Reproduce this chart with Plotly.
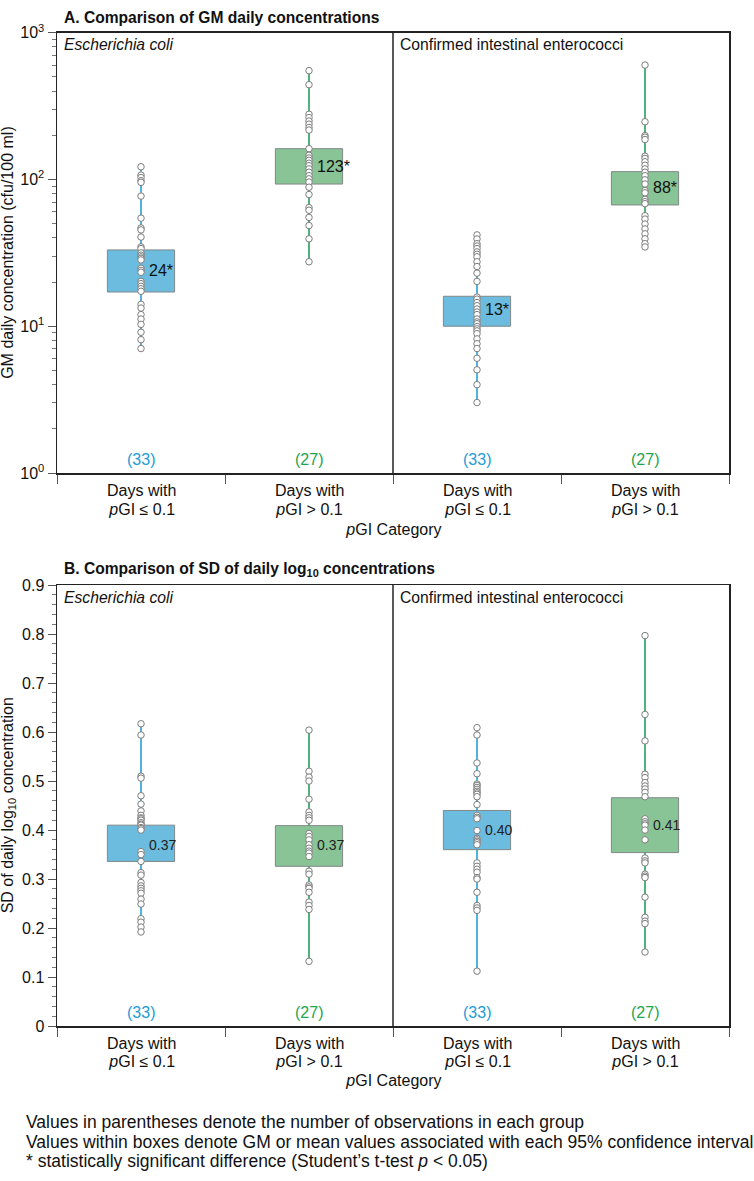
import math
import plotly.graph_objects as go

W, H = 754, 1181
FONT = "Liberation Sans, Arial, Helvetica, sans-serif"

# ---------------- data ----------------
category_line1 = ["Days with", "Days with", "Days with", "Days with"]
category_line2 = ["\u200a<i>p</i>GI ≤ 0.1", "\u200a<i>p</i>GI > 0.1",
                  "\u200a<i>p</i>GI ≤ 0.1", "\u200a<i>p</i>GI > 0.1"]
organisms = ["Escherichia coli", "Confirmed intestinal enterococci"]
organism_style = ["italic", "normal"]
group_counts = ["(33)", "(27)", "(33)", "(27)"]

# Panel A: GM daily concentrations (cfu/100 ml)
gm_ecoli_low = [122, 107, 103, 98, 95.5, 77, 54.5, 46.7, 45.3, 40.5, 34.7, 33.8, 31.6,
                30.5, 29.7, 29.0, 28.3, 24.8, 24.0, 23.3, 20.2, 19.5, 18.7, 18.0, 17.3,
                14.1, 13.3, 12.0, 11.2, 10.3, 9.1, 8.1, 7.05]
gm_ecoli_high = [551, 442, 278, 264, 250, 238, 226, 217, 162, 146, 140, 135, 129, 124,
                 118, 112, 106, 101, 96, 88.5, 79, 64.3, 61.7, 55.1, 48.5, 39.4, 27.5]
gm_ent_low = [41.9, 39.3, 36.5, 35.2, 33.8, 32.1, 30.9, 29.7, 27.5, 25.5, 23.0, 20.2,
              15.8, 15.3, 14.5, 13.8, 13.1, 12.5, 12.0, 11.2, 10.7, 10.4, 9.95, 9.6,
              9.3, 8.9, 8.2, 7.6, 7.05, 6.05, 5.05, 4.0, 3.02]
gm_ent_high = [601, 247, 199, 194, 187, 144, 139, 132, 125, 118, 112, 106, 99.4, 93.1,
               83.9, 81.0, 73.1, 70.5, 68.4, 56.6, 53.7, 49.7, 46.0, 42.6, 39.4, 36.5, 34.7]
gm_ci_low = [17.1, 93, 10.0, 67]
gm_ci_high = [33.1, 162, 16.0, 113]
gm_centre = [24, 123, 13, 88]
gm_labels = ["24*", "123*", "13*", "88*"]

# Panel B: SD of daily log10 concentration
sd_ecoli_low = [0.617, 0.594, 0.510, 0.506, 0.470, 0.453, 0.439, 0.430, 0.425, 0.423,
                0.420, 0.415, 0.412, 0.410, 0.405, 0.403, 0.400, 0.356, 0.350, 0.336,
                0.313, 0.308, 0.293, 0.286, 0.281, 0.276, 0.271, 0.259, 0.249, 0.219,
                0.212, 0.202, 0.192]
sd_ecoli_high = [0.604, 0.520, 0.508, 0.500, 0.463, 0.437, 0.430, 0.425, 0.420, 0.393,
                 0.387, 0.380, 0.370, 0.363, 0.357, 0.353, 0.346, 0.316, 0.310, 0.288,
                 0.284, 0.281, 0.273, 0.253, 0.246, 0.238, 0.132]
sd_ent_low = [0.609, 0.594, 0.537, 0.515, 0.494, 0.491, 0.487, 0.483, 0.479, 0.476,
              0.473, 0.468, 0.452, 0.430, 0.426, 0.423, 0.399, 0.383, 0.380, 0.377,
              0.374, 0.370, 0.333, 0.326, 0.320, 0.314, 0.303, 0.300, 0.273, 0.246,
              0.241, 0.236, 0.112]
sd_ent_high = [0.797, 0.636, 0.582, 0.514, 0.507, 0.497, 0.490, 0.484, 0.477, 0.468,
               0.423, 0.417, 0.413, 0.410, 0.400, 0.380, 0.343, 0.337, 0.333, 0.310,
               0.306, 0.303, 0.263, 0.222, 0.214, 0.209, 0.151]
sd_ci_low = [0.336, 0.326, 0.360, 0.354]
sd_ci_high = [0.410, 0.409, 0.440, 0.466]
sd_centre = [0.37, 0.37, 0.40, 0.41]
sd_labels = ["0.37", "0.37", "0.40", "0.41"]

footnotes = ["Values in parentheses denote the number of observations in each group",
             "Values within boxes denote GM or mean values associated with each 95% confidence interval",
             "* statistically significant difference (Student’s t-test <i>p</i> < 0.05)"]

# ---------------- styles ----------------
BOX_FILL = ["rgb(107,188,222)", "rgb(137,196,150)"] * 2
LINE_COL = ["rgb(38,160,212)", "rgb(36,160,90)"] * 2
TEXT_COL = ["rgb(28,156,216)", "rgb(28,166,78)"] * 2
AXIS_COL = "#222222"
HALF = 0.2

px_x = lambda p: p / W
px_y = lambda p: 1 - p / H

fig = go.Figure()


def add_panel(groups, lo, hi, centre, labels, xa, ya, log, label_size, label_col):
    for i, vals in enumerate(groups):
        # whisker line through the points
        fig.add_trace(go.Scatter(x=[i, i], y=[min(vals), max(vals)], mode="lines",
                                 line=dict(color=LINE_COL[i], width=1.6),
                                 xaxis=xa, yaxis=ya, hoverinfo="skip", showlegend=False))
        # 95% CI box
        fig.add_trace(go.Scatter(x=[i - HALF, i + HALF, i + HALF, i - HALF, i - HALF],
                                 y=[lo[i], lo[i], hi[i], hi[i], lo[i]], mode="lines",
                                 fill="toself", fillcolor=BOX_FILL[i],
                                 line=dict(color="rgb(128,136,136)", width=1),
                                 xaxis=xa, yaxis=ya, hoverinfo="skip", showlegend=False))
        # observations
        fig.add_trace(go.Scatter(x=[i] * len(vals), y=vals, mode="markers",
                                 marker=dict(size=6.5, color="white",
                                             line=dict(color="rgb(125,125,125)", width=1)),
                                 xaxis=xa, yaxis=ya, showlegend=False))
        fig.add_annotation(x=i + 0.035, y=math.log10(centre[i]) if log else centre[i],
                           xref=xa, yref=ya, text=labels[i], showarrow=False,
                           xanchor="left", yanchor="middle",
                           font=dict(size=label_size, color=label_col, family=FONT))
        fig.add_annotation(x=i, y=0.03, xref=xa, yref=ya + " domain", text=group_counts[i],
                           showarrow=False, xanchor="center", yanchor="middle",
                           font=dict(size=16, color=TEXT_COL[i], family=FONT))


add_panel([gm_ecoli_low, gm_ecoli_high, gm_ent_low, gm_ent_high],
          gm_ci_low, gm_ci_high, gm_centre, gm_labels, "x", "y", True, 16, "#111111")
add_panel([sd_ecoli_low, sd_ecoli_high, sd_ent_low, sd_ent_high],
          sd_ci_low, sd_ci_high, sd_centre, sd_labels, "x2", "y2", False, 14, "#222222")

x_dom = [px_x(57), px_x(729)]
common_x = dict(range=[-0.5, 3.5], tickvals=[-0.5, 0.5, 1.5, 2.5, 3.5], showticklabels=False,
                ticks="outside", ticklen=9, tickwidth=1, tickcolor="#555555",
                showline=True, linecolor=AXIS_COL, linewidth=1.5, mirror=True,
                showgrid=False, zeroline=False, domain=x_dom, fixedrange=True)
common_y = dict(ticks="outside", ticklen=8, tickwidth=1, tickcolor="#555555",
                showline=True, linecolor=AXIS_COL, linewidth=1.5, mirror=True,
                showgrid=False, zeroline=False, fixedrange=True,
                tickfont=dict(size=16, color="#111111", family=FONT))

minor_log = [m * 10 ** k for k in range(0, 3) for m in range(2, 10)]

fig.update_layout(
    width=W, height=H, autosize=False,
    margin=dict(l=0, r=0, t=0, b=0),
    paper_bgcolor="white", plot_bgcolor="white",
    font=dict(family=FONT, size=16, color="#111111"),
    xaxis=dict(common_x, anchor="y"),
    yaxis=dict(common_y, anchor="x", type="log", range=[0, 3],
               domain=[px_y(470), px_y(22)],
               tickvals=[1, 10, 100, 1000],
               ticktext=["10<sup>0</sup>", "10<sup>1</sup>", "10<sup>2</sup>", "10<sup>3</sup>"],
               minor=dict(tickvals=minor_log, ticks="outside", ticklen=4,
                          tickcolor="#777777", showgrid=False)),
    xaxis2=dict(common_x, anchor="y2"),
    yaxis2=dict(common_y, anchor="x2", range=[0, 0.9], domain=[px_y(1032.5), px_y(584)],
                tickvals=[0, 0.1, 0.2, 0.3, 0.4, 0.5, 0.6, 0.7, 0.8, 0.9],
                ticktext=["0", "0.1", "0.2", "0.3", "0.4", "0.5", "0.6", "0.7", "0.8", "0.9"],
                minor=dict(dtick=0.02, ticks="outside", ticklen=4,
                           tickcolor="#777777", showgrid=False)),
)

# dividers between organisms
for xa, ya in [("x", "y"), ("x2", "y2")]:
    fig.add_shape(type="line", xref=xa, yref=ya + " domain", x0=1.5, x1=1.5, y0=0, y1=1,
                  line=dict(color=AXIS_COL, width=1.5))

# organism labels
for xa, top in [("x", 34), ("x2", 597)]:
    for k, org in enumerate(organisms):
        fig.add_annotation(x=-0.5 + 2 * k, y=px_y(top), xref=xa, yref="paper", text=org,
                           showarrow=False, xanchor="left", yanchor="middle", xshift=5,
                           font=dict(size=15.7, color="#111111", family=FONT,
                                     style=organism_style[k]))

# category labels
for xa, l1, l2, cat_y in [("x", 488, 507, 527), ("x2", 1050, 1069, 1088)]:
    for i in range(len(category_line1)):
        for txt, yy in [(category_line1[i], l1), (category_line2[i], l2)]:
            fig.add_annotation(x=i, y=px_y(yy), xref=xa, yref="paper", text=txt,
                               showarrow=False, xanchor="center", yanchor="middle",
                               font=dict(size=16, color="#111111", family=FONT))
    fig.add_annotation(x=px_x(393), y=px_y(cat_y), xref="paper", yref="paper",
                       text="\u200a<i>p</i>GI Category", showarrow=False,
                       xanchor="center", yanchor="middle",
                       font=dict(size=16, color="#111111", family=FONT))

# panel titles
fig.add_annotation(x=px_x(62), y=px_y(7), xref="paper", yref="paper",
                   text="<b>A. Comparison of GM daily concentrations</b>", showarrow=False,
                   xanchor="left", yanchor="middle", font=dict(size=15.6, color="#111111", family=FONT))
fig.add_annotation(x=px_x(62), y=px_y(568), xref="paper", yref="paper",
                   text="<b>B. Comparison of SD of daily log<sub>10</sub> concentrations</b>",
                   showarrow=False, xanchor="left", yanchor="middle",
                   font=dict(size=15.6, color="#111111", family=FONT))

# y-axis titles
fig.add_annotation(x=px_x(8), y=px_y(246), xref="paper", yref="paper",
                   text="GM daily concentration (cfu/100 ml)", textangle=-90, showarrow=False,
                   xanchor="center", yanchor="middle", font=dict(size=16, color="#111111", family=FONT))
fig.add_annotation(x=px_x(8), y=px_y(808), xref="paper", yref="paper",
                   text="SD of daily log<sub>10</sub> concentration", textangle=-90, showarrow=False,
                   xanchor="center", yanchor="middle", font=dict(size=16, color="#111111", family=FONT))

# footnotes
for k, t in enumerate(footnotes):
    fig.add_annotation(x=px_x(24), y=px_y(1130 + 20 * k), xref="paper", yref="paper",
                       text=t, showarrow=False, xanchor="left", yanchor="middle",
                       font=dict(size=17.5, color="#111111", family=FONT))

fig.write_html("out.html", config={"displayModeBar": False, "staticPlot": True},
               post_script="document.body.style.margin='0';")
